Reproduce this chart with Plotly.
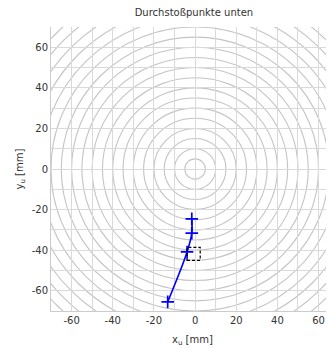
import plotly.graph_objects as go

# data
path_x = [-1.6, -1.6, -3.9, -13.3]
path_y = [-24.6, -31.6, -40.9, -65.5]
ring_radii = list(range(5, 105, 5))
box_center = [-0.7, -41.8]
box_half = 3.2
tick_vals = [-60, -40, -20, 0, 20, 40, 60]
tick_text = ["-60", "-40", "-20", "0", "20", "40", "60"]

fig = go.Figure()

for r in ring_radii:
    fig.add_shape(type="circle", xref="x", yref="y", x0=-r, y0=-r, x1=r, y1=r,
                  line=dict(color="#c4c4c4", width=1.1), layer="below")

fig.add_shape(type="rect", xref="x", yref="y",
              x0=box_center[0] - box_half, x1=box_center[0] + box_half,
              y0=box_center[1] - box_half, y1=box_center[1] + box_half,
              line=dict(color="black", width=1.2, dash="3px,2px"))

fig.add_trace(go.Scatter(x=path_x, y=path_y, mode="lines+markers",
                         line=dict(color="#0000ff", width=1.6, shape="spline"),
                         marker=dict(symbol="cross-thin", size=9,
                                     line=dict(color="#0000ff", width=1.7)),
                         showlegend=False))

font = dict(family="DejaVu Sans", size=10, color="#333")
axis_common = dict(tickvals=tick_vals, ticktext=tick_text, showgrid=True,
                   gridcolor="#dadada", gridwidth=1, automargin=False,
                   zeroline=False, showline=True, linecolor="#cccccc", linewidth=1,
                   ticks="", tickfont=font,
                   minor=dict(dtick=10, tick0=0, showgrid=True, gridcolor="#dadada", gridwidth=1))

fig.update_xaxes(range=[-70, 67.5], title=dict(text="x<sub>u</sub> [mm]", standoff=10, font=font),
                 **axis_common)
fig.update_yaxes(range=[-70, 70], title=dict(text="y<sub>u</sub> [mm]", standoff=6, font=font),
                 **axis_common)

fig.update_layout(width=326, height=340, margin=dict(l=43, r=0, t=19, b=37, autoexpand=False),
                  plot_bgcolor="white", paper_bgcolor="white",
                  title=dict(text="Durchstoßpunkte unten", xref="paper", x=0.505, xanchor="center",
                             yref="container", y=0.988, yanchor="middle", font=font))

fig.write_html("out.html")
